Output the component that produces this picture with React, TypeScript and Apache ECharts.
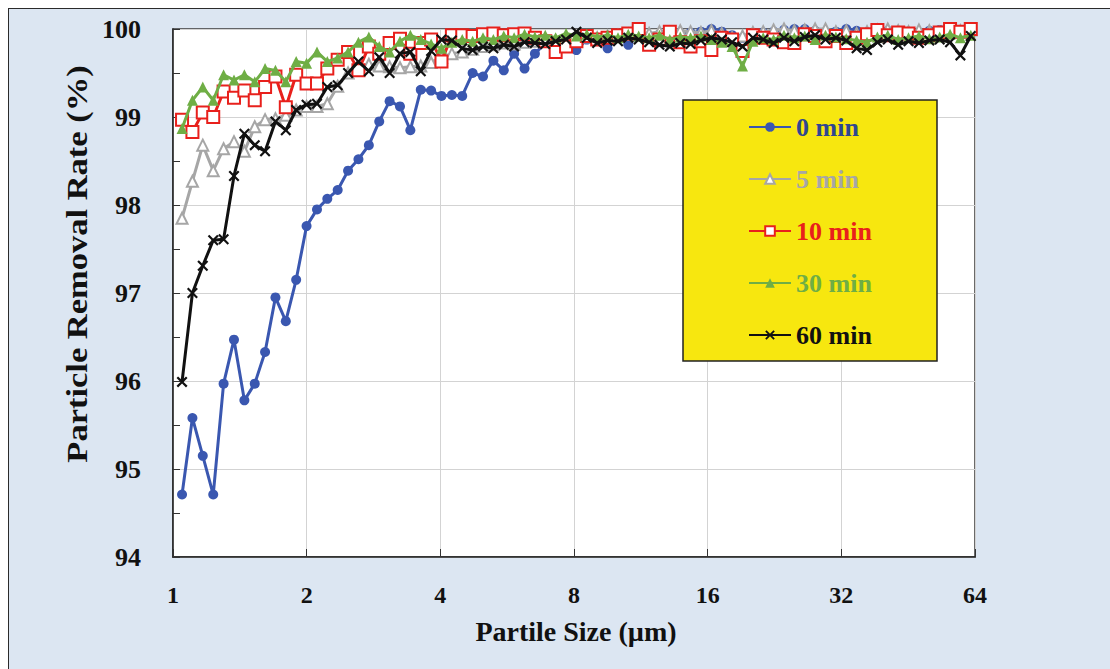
import React, { useEffect, useRef } from "react";
import * as echarts from "echarts";

// Particle sizes (µm) of the measurement channels
const sizes = [
  1.048, 1.106, 1.167, 1.232, 1.3, 1.372, 1.448, 1.528, 1.612, 1.701,
  1.795, 1.894, 1.999, 2.11, 2.226, 2.349, 2.479, 2.616, 2.761, 2.914,
  3.075, 3.245, 3.424, 3.614, 3.813, 4.024, 4.247, 4.481, 4.729, 4.991,
  5.267, 5.558, 5.865, 6.19, 6.532, 6.893, 7.274, 7.677, 8.101, 8.549,
  9.022, 9.521, 10.05, 10.6, 11.19, 11.81, 12.46, 13.15, 13.88, 14.64,
  15.45, 16.31, 17.21, 18.16, 19.17, 20.23, 21.34, 22.52, 23.77, 25.08,
  26.47, 27.93, 29.48, 31.11, 32.83, 34.64, 36.56, 38.58, 40.71, 42.97,
  45.34, 47.85, 50.5, 53.29, 56.23, 59.34, 62.62,
];

// Removal rate (%) after each filtration time
const min0 = [
  94.71, 95.58, 95.15, 94.71, 95.97, 96.47, 95.78, 95.97, 96.33, 96.95,
  96.68, 97.15, 97.76, 97.95, 98.07, 98.17, 98.39, 98.52, 98.68, 98.95,
  99.18, 99.12, 98.85, 99.31, 99.3, 99.24, 99.25, 99.24, 99.5, 99.46,
  99.64, 99.53, 99.72, 99.55, 99.72, 99.84, 99.86, 99.85, 99.76, 99.88,
  99.9, 99.78, 99.9, 99.82, 99.92, 99.9, 99.94, 99.93, 99.95, 99.96,
  99.97, 100.0, 99.97, 99.93, 99.9, 99.94, 99.96, 99.97, 99.99, 100.0,
  100.0, 99.98, 99.96, 99.97, 100.0, 99.98, 99.96, 100.0, 99.98, 99.93,
  99.97, 99.96, 99.98, 99.99, 99.97, 99.98, 99.99,
];
const min5 = [
  97.85, 98.27, 98.68, 98.39, 98.64, 98.72, 98.61, 98.89, 98.97, 98.98,
  99.02, 99.08, 99.12, 99.12, 99.15, 99.35, 99.5, 99.56, 99.6, 99.58,
  99.57, 99.56, 99.57, 99.58, 99.62, 99.68, 99.72, 99.74, 99.77, 99.8,
  99.82, 99.84, 99.83, 99.85, 99.86, 99.88, 99.87, 99.89, 99.9, 99.91,
  99.9, 99.92, 99.93, 99.94, 99.93, 99.95, 99.97, 99.96, 99.98, 99.97,
  99.96, 99.98, 99.95, 99.9, 99.92, 99.96, 99.97, 99.99, 100.0, 99.98,
  99.99, 100.0, 100.0, 99.97, 99.98, 99.95, 99.97, 99.99, 100.0, 99.98,
  99.97, 99.99, 99.98, 99.96, 99.97, 99.98, 99.99,
];
const min10 = [
  98.97, 98.83, 99.05, 99.0, 99.29, 99.22, 99.3, 99.19, 99.34, 99.46,
  99.11, 99.48, 99.38, 99.38, 99.55, 99.65, 99.74, 99.53, 99.8, 99.72,
  99.84, 99.89, 99.72, 99.84, 99.88, 99.63, 99.93, 99.93, 99.92, 99.94,
  99.95, 99.93, 99.94, 99.95, 99.9, 99.86, 99.74, 99.8, 99.86, 99.92,
  99.88, 99.9, 99.93, 99.95, 100.0, 99.82, 99.88, 99.97, 99.85, 99.8,
  99.86, 99.76, 99.9, 99.88, 99.75, 99.93, 99.9, 99.88, 99.85, 99.84,
  99.94, 99.92, 99.86, 99.92, 99.84, 99.9, 99.94, 99.99, 99.93, 99.96,
  99.95, 99.9, 99.93, 99.96, 100.0, 99.97, 100.0,
];
const min30 = [
  98.87, 99.19, 99.34, 99.19, 99.48, 99.42, 99.48, 99.4, 99.55, 99.53,
  99.4, 99.63, 99.61, 99.74, 99.63, 99.67, 99.74, 99.85, 99.91, 99.8,
  99.74, 99.86, 99.93, 99.88, 99.83, 99.78, 99.85, 99.88, 99.86, 99.9,
  99.88, 99.92, 99.9, 99.94, 99.91, 99.93, 99.9, 99.95, 99.92, 99.94,
  99.91, 99.93, 99.9, 99.94, 99.92, 99.9, 99.93, 99.88, 99.91, 99.9,
  99.92, 99.88, 99.85, 99.8, 99.58, 99.86, 99.9, 99.88, 99.93, 99.9,
  99.92, 99.88, 99.93, 99.91, 99.89, 99.87, 99.85, 99.91, 99.93, 99.88,
  99.9, 99.92, 99.89, 99.91, 99.94, 99.9, 99.93,
];
const min60 = [
  95.99, 97.0, 97.31, 97.6, 97.61, 98.33, 98.81, 98.68, 98.61, 98.95,
  98.85, 99.08, 99.14, 99.15, 99.34, 99.36, 99.5, 99.63, 99.52, 99.68,
  99.5, 99.72, 99.74, 99.52, 99.75, 99.88, 99.87, 99.78, 99.76, 99.8,
  99.78, 99.82, 99.8, 99.85, 99.84, 99.83, 99.86, 99.88, 99.97, 99.9,
  99.84, 99.87, 99.86, 99.9, 99.88, 99.85, 99.82, 99.8, 99.84, 99.83,
  99.87, 99.9, 99.88, 99.85, 99.8, 99.9, 99.88, 99.84, 99.9, 99.86,
  99.91, 99.93, 99.88, 99.9, 99.87, 99.78, 99.76, 99.85, 99.88, 99.82,
  99.86, 99.84, 99.87, 99.88, 99.85, 99.7, 99.92,
];

const seriesNames = ["0 min", "5 min", "10 min", "30 min", "60 min"];
const seriesValues = [min0, min5, min10, min30, min60];

const SERIF = '"Liberation Serif", "Times New Roman", serif';
const CROSS =
  "path://M0,1.4L1.4,0L5,3.6L8.6,0L10,1.4L6.4,5L10,8.6L8.6,10L5,6.4L1.4,10L0,8.6L3.6,5Z";

const styles = [
  { line: "#3A57B0", text: "#2F4690", symbol: "circle", size: 10 },
  { line: "#A6A6A6", text: "#A6A6A6", symbol: "emptyTriangle", size: 11 },
  { line: "#E8201C", text: "#E8201C", symbol: "emptyRect", size: 12 },
  { line: "#6FAE45", text: "#6FAE45", symbol: "triangle", size: 11 },
  { line: "#111111", text: "#111111", symbol: CROSS, size: 11 },
];

export default function App() {
  const ref = useRef<HTMLDivElement>(null);

  useEffect(() => {
    if (!ref.current) return;
    const chart = echarts.init(ref.current, undefined, { renderer: "svg" });

    const series = seriesNames.map((name, k) => ({
      name,
      type: "line",
      data: sizes.map((x, i) => [x, seriesValues[k][i]]),
      symbol: styles[k].symbol,
      symbolSize: styles[k].size,
      showSymbol: true,
      clip: false,
      lineStyle: { color: styles[k].line, width: 3 },
      itemStyle: {
        color: styles[k].line,
        borderColor: styles[k].line,
        borderWidth: k === 1 || k === 2 ? 2.2 : 0,
      },
      emphasis: { disabled: true },
      z: 2 + k,
    }));

    chart.setOption({
      animation: false,
      backgroundColor: "transparent",
      grid: {
        left: 164,
        top: 20,
        width: 802,
        height: 528,
        show: true,
        backgroundColor: "#ffffff",
        borderColor: "#3a3a3a",
        borderWidth: 1.5,
      },
      xAxis: {
        type: "log",
        logBase: 2,
        min: 1,
        max: 64,
        splitNumber: 6,
        axisLine: { show: true, lineStyle: { color: "#222", width: 1.5 } },
        axisTick: { show: true, inside: true, length: 8, lineStyle: { color: "#333" } },
        splitLine: { show: true, lineStyle: { color: "#d3d3d3", width: 1 } },
        minorTick: { show: false },
        axisLabel: {
          fontFamily: SERIF,
          fontWeight: "bold",
          fontSize: 24,
          color: "#111",
          margin: 26,
          formatter: (v: number) => String(Math.round(v)),
        },
      },
      yAxis: {
        type: "value",
        min: 94,
        max: 100,
        interval: 1,
        axisLine: { show: true, lineStyle: { color: "#222", width: 1.5 } },
        axisTick: { show: true, inside: true, length: 7, lineStyle: { color: "#333" } },
        minorTick: { show: true, splitNumber: 2, length: 7, lineStyle: { color: "#333" } },
        splitLine: { show: true, lineStyle: { color: "#d3d3d3", width: 1 } },
        axisLabel: {
          fontFamily: SERIF,
          fontWeight: "bold",
          fontSize: 26,
          color: "#111",
          margin: 32,
        },
      },
      legend: {
        orient: "vertical",
        left: 739,
        top: 105,
        padding: 0,
        itemWidth: 42,
        itemHeight: 12,
        itemGap: 26,
        z: 10,
        data: seriesNames.map((name, k) => ({
          name,
          textStyle: { color: styles[k].text },
        })),
        textStyle: {
          fontFamily: SERIF,
          fontWeight: "bold",
          fontSize: 26,
          lineHeight: 26,
        },
      },
      graphic: [
        {
          type: "rect",
          z: 1,
          shape: { x: 674, y: 91, width: 254, height: 261 },
          style: { fill: "#F7E70F", stroke: "#222", lineWidth: 1.5 },
        },
        {
          type: "text",
          x: 68,
          y: 255,
          rotation: Math.PI / 2,
          scaleX: 1.15,
          style: {
            text: "Particle Removal Rate (%)",
            font: `bold 30px ${SERIF}`,
            fill: "#111",
            align: "center",
            verticalAlign: "middle",
            textAlign: "center",
            textVerticalAlign: "middle",
          },
        },
        {
          type: "text",
          x: 567,
          y: 622,
          style: {
            text: "Partile Size (µm)",
            font: `bold 28px ${SERIF}`,
            fill: "#111",
            align: "center",
            verticalAlign: "middle",
            textAlign: "center",
            textVerticalAlign: "middle",
          },
        },
      ],
      series,
    });

    return () => chart.dispose();
  }, []);

  return (
    <div
      style={{
        position: "fixed",
        left: 8,
        top: 8,
        right: 0,
        bottom: 0,
        boxSizing: "border-box",
        borderTop: "1px solid #2b2b2b",
        borderLeft: "1px solid #2b2b2b",
        background: "#DCE6F2",
      }}
    >
      <div ref={ref} style={{ position: "absolute", left: 0, top: 0, width: 1100, height: 659 }} />
    </div>
  );
}
